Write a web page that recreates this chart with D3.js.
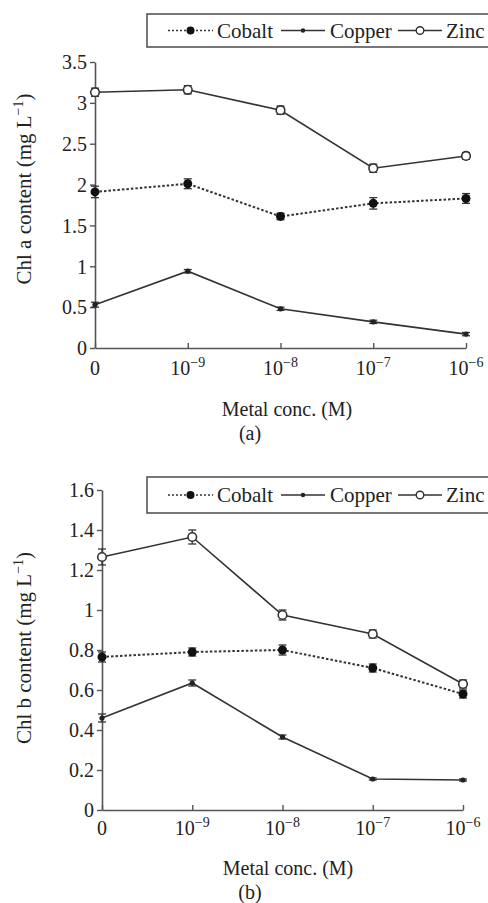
<!DOCTYPE html>
<html><head><meta charset="utf-8">
<script src="https://cdn.jsdelivr.net/npm/d3@7/dist/d3.min.js"></script>
<style>body{margin:0;background:#fff}svg{display:block}
svg text{font-family:"Liberation Serif","DejaVu Serif","Times New Roman",serif;}</style>
</head><body>
<svg id="c" width="488" height="903"></svg>
<script>
const categories = ["0","1e-9","1e-8","1e-7","1e-6"];
const catExponents = [null,"−9","−8","−7","−6"];
const seriesNames = ["Cobalt","Copper","Zinc"];

// Panel (a): Chl a content
const chlaCobalt = [1.91, 2.01, 1.61, 1.77, 1.83];
const chlaCobaltErr = [0.07, 0.06, 0.04, 0.07, 0.06];
const chlaCopper = [0.53, 0.94, 0.48, 0.32, 0.17];
const chlaCopperErr = [0.03, 0.02, 0.02, 0.02, 0.02];
const chlaZinc = [3.13, 3.16, 2.91, 2.20, 2.35];
const chlaZincErr = [0.05, 0.05, 0.05, 0.05, 0.04];
const chlaTicks = [0, 0.5, 1, 1.5, 2, 2.5, 3, 3.5];

// Panel (b): Chl b content
const chlbCobalt = [0.765, 0.79, 0.80, 0.71, 0.58];
const chlbCobaltErr = [0.025, 0.02, 0.025, 0.02, 0.02];
const chlbCopper = [0.46, 0.635, 0.365, 0.155, 0.15];
const chlbCopperErr = [0.02, 0.015, 0.01, 0.005, 0.005];
const chlbZinc = [1.265, 1.365, 0.975, 0.88, 0.63];
const chlbZincErr = [0.04, 0.035, 0.025, 0.02, 0.02];
const chlbTicks = [0, 0.2, 0.4, 0.6, 0.8, 1, 1.2, 1.4, 1.6];

const svg = d3.select("#c");
const INK = "#333";

function panel(o) {
  const g = svg.append("g");
  const x = d3.scalePoint().domain(categories).range([o.x0, o.x1]);
  const y = d3.scaleLinear().domain(o.ydom).range([o.y0, o.y1]);

  // y axis
  const ya = g.append("g").attr("transform", `translate(${o.x0},0)`)
    .call(d3.axisLeft(y).tickValues(o.ticks).tickSize(5).tickSizeOuter(0)
      .tickFormat(d => d3.format("")(+d.toFixed(2))));
  ya.attr("font-family", null);
  ya.select(".domain").attr("stroke", "#555").attr("stroke-width", 1.6);
  ya.selectAll(".tick line").attr("stroke", "#555").attr("stroke-width", 1.4);
  ya.selectAll(".tick text").attr("font-size", 20)
    .attr("fill", "#222").attr("x", -8).attr("dy", "0.34em");

  // x axis
  const xa = g.append("g").attr("transform", `translate(0,${o.y0})`)
    .call(d3.axisBottom(x).tickSize(-5).tickSizeOuter(0).tickFormat(""));
  xa.select(".domain").attr("stroke", "#555").attr("stroke-width", 1.6);
  xa.selectAll(".tick line").attr("stroke", "#555").attr("stroke-width", 1.4);
  categories.forEach((c, i) => {
    const t = g.append("text").attr("x", x(c)).attr("y", o.y0 + o.tickDy)
      .attr("text-anchor", "middle").attr("font-size", 20).attr("fill", "#222");
    if (catExponents[i] === null) t.text("0");
    else {
      t.append("tspan").text("10");
      t.append("tspan").attr("dy", -8).attr("font-size", 14).text(catExponents[i]);
    }
  });

  // axis titles
  g.append("text").attr("x", o.xlabX).attr("y", o.xlabY).attr("text-anchor", "middle")
    .attr("font-size", 20).attr("fill", "#222").text("Metal conc. (M)");
  g.append("text").attr("x", o.capX).attr("y", o.capY).attr("text-anchor", "middle")
    .attr("font-size", 20).attr("fill", "#222").text(o.cap);
  const yl = g.append("text").attr("transform", `translate(${o.ylabX},${o.ylabY}) rotate(-90)`)
    .attr("text-anchor", "middle").attr("font-size", 21).attr("fill", "#222");
  yl.append("tspan").text(o.ylab + " (mg L");
  yl.append("tspan").attr("dy", -8).attr("font-size", 14).text("−1");
  yl.append("tspan").attr("dy", 8).text(")");

  // series
  const series = [
    {name: "Cobalt", v: o.cobalt, e: o.cobaltErr, dash: "2.5,2", marker: "fill"},
    {name: "Copper", v: o.copper, e: o.copperErr, dash: null, marker: "dot"},
    {name: "Zinc", v: o.zinc, e: o.zincErr, dash: null, marker: "open"}
  ];
  const line = d3.line().x((d, i) => x(categories[i])).y(d => y(d));
  series.forEach(s => {
    g.append("path").datum(s.v).attr("d", line).attr("fill", "none")
      .attr("stroke", INK).attr("stroke-width", s.dash ? 2 : 1.6)
      .attr("stroke-dasharray", s.dash);
    s.v.forEach((v, i) => {
      const cx = x(categories[i]);
      const eb = g.append("g").attr("stroke", INK).attr("stroke-width", 1.3);
      eb.append("line").attr("x1", cx).attr("x2", cx).attr("y1", y(v - s.e[i])).attr("y2", y(v + s.e[i]));
      [v - s.e[i], v + s.e[i]].forEach(w => eb.append("line").attr("x1", cx - 4).attr("x2", cx + 4).attr("y1", y(w)).attr("y2", y(w)));
    });
    const m = g.selectAll(null).data(s.v).enter();
    if (s.marker === "fill") m.append("circle").attr("cx", (d, i) => x(categories[i])).attr("cy", d => y(d)).attr("r", 4.5).attr("fill", "#111");
    if (s.marker === "dot") m.append("circle").attr("cx", (d, i) => x(categories[i])).attr("cy", d => y(d)).attr("r", 2.6).attr("fill", "#222");
    if (s.marker === "open") m.append("circle").attr("cx", (d, i) => x(categories[i])).attr("cy", d => y(d)).attr("r", 4.3).attr("fill", "#fff").attr("stroke", INK).attr("stroke-width", 1.6);
  });

  // legend
  const lg = g.append("g").attr("transform", `translate(0,${o.legY})`);
  lg.append("rect").attr("x", 147).attr("y", 0).attr("width", 360).attr("height", o.legH)
    .attr("fill", "#fff").attr("stroke", "#555").attr("stroke-width", 1.6);
  const cy = o.legH / 2;
  const items = [
    {x1: 168, x2: 213, tx: 217, dash: "2,2", marker: "fill"},
    {x1: 281, x2: 325, tx: 330, dash: null, marker: "dot"},
    {x1: 398, x2: 442, tx: 446, dash: null, marker: "open"}
  ];
  items.forEach((it, i) => {
    lg.append("line").attr("x1", it.x1).attr("x2", it.x2).attr("y1", cy).attr("y2", cy)
      .attr("stroke", INK).attr("stroke-width", it.dash ? 1.6 : 1.5).attr("stroke-dasharray", it.dash);
    const mx = (it.x1 + it.x2) / 2;
    if (it.marker === "fill") lg.append("circle").attr("cx", mx).attr("cy", cy).attr("r", 4).attr("fill", "#111");
    if (it.marker === "dot") lg.append("circle").attr("cx", mx).attr("cy", cy).attr("r", 2.2).attr("fill", "#222");
    if (it.marker === "open") lg.append("circle").attr("cx", mx).attr("cy", cy).attr("r", 3.8).attr("fill", "#fff").attr("stroke", INK).attr("stroke-width", 1.4);
    lg.append("text").attr("x", it.tx).attr("y", cy + 7).attr("font-size", 21)
      .attr("fill", "#222").text(seriesNames[i]);
  });
}

panel({
  x0: 95, x1: 466, y0: 348, y1: 62, ydom: [0, 3.5], ticks: chlaTicks, tickDy: 27,
  cobalt: chlaCobalt, cobaltErr: chlaCobaltErr, copper: chlaCopper, copperErr: chlaCopperErr,
  zinc: chlaZinc, zincErr: chlaZincErr,
  xlabX: 287, xlabY: 416, cap: "(a)", capX: 250, capY: 440,
  ylab: "Chl a content", ylabX: 31, ylabY: 189,
  legY: 14, legH: 33
});
panel({
  x0: 102, x1: 463, y0: 810, y1: 490, ydom: [0, 1.6], ticks: chlbTicks, tickDy: 25,
  cobalt: chlbCobalt, cobaltErr: chlbCobaltErr, copper: chlbCopper, copperErr: chlbCopperErr,
  zinc: chlbZinc, zincErr: chlbZincErr,
  xlabX: 288, xlabY: 875, cap: "(b)", capX: 250, capY: 899,
  ylab: "Chl b content", ylabX: 31, ylabY: 648,
  legY: 477, legH: 36
});
</script>
</body></html>
